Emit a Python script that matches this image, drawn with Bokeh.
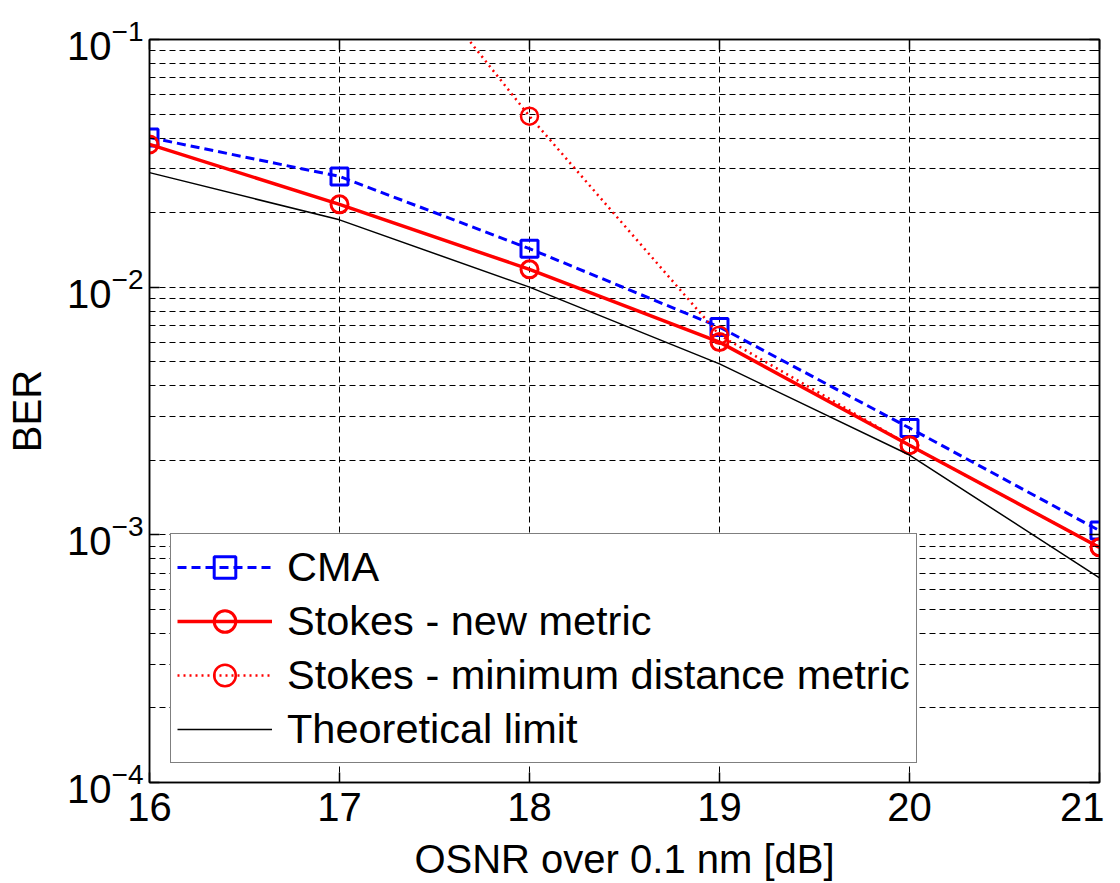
import math
from bokeh.plotting import figure
from bokeh.models import (FixedTicker, LinearAxis, LogAxis, Legend,
                          LegendItem, Range1d, CustomJSTickFormatter, LogTickFormatter)
from bokeh.embed import file_html
from bokeh.resources import INLINE

# ---- data ----
osnr = [16, 17, 18, 19, 20, 21]
ber_cma = [0.0402, 0.0280, 0.0143, 0.0069, 0.0027, 0.00104]
ber_stokes_new = [0.0377, 0.0216, 0.0118, 0.0060, 0.0023, 0.00089]
osnr_min_dist = [17, 18, 19, 20, 21]
ber_min_dist = [0.45, 0.049, 0.0064, 0.0023, 0.00089]
ber_theory = [0.0290, 0.0187, 0.0100, 0.0049, 0.0021, 0.00067]

x_ticks = [16, 17, 18, 19, 20, 21]
y_ticks = [1e-4, 1e-3, 1e-2, 1e-1]

series_labels = ["CMA", "Stokes - new metric",
                 "Stokes - minimum distance metric", "Theoretical limit"]
x_label = "OSNR over 0.1 nm [dB]"
y_label = "BER"

FONT = "Liberation Sans"
minor_y = [m * t for t in y_ticks[:-1] for m in range(2, 10)]
blank = CustomJSTickFormatter(code="return ''")

p = figure(frame_width=950, frame_height=743,
           min_border_left=149, min_border_right=5,
           min_border_top=39, min_border_bottom=85,
           x_range=Range1d(16, 21), y_range=Range1d(1e-4, 1e-1),
           y_axis_type="log", output_backend="svg", toolbar_location=None,
           x_axis_label=x_label, y_axis_label=y_label)

p.background_fill_color = "white"
p.border_fill_color = "white"
p.outline_line_color = "black"
p.outline_line_width = 1.5

# axes
xa = p.xaxis[0]
xa.ticker = FixedTicker(ticks=x_ticks)
xa.major_label_text_font = FONT
xa.major_label_text_font_size = "40px"
xa.major_label_text_color = "black"
xa.major_label_standoff = 10
xa.axis_label_text_font = FONT
xa.axis_label_text_font_size = "40px"
xa.axis_label_text_font_style = "normal"
xa.axis_label_text_color = "black"
xa.axis_label_standoff = 13
xa.major_tick_in = 10
xa.major_tick_out = 0
xa.minor_tick_line_color = None
xa.axis_line_width = 1.5
xa.major_tick_line_width = 1.5

ya = p.yaxis[0]
ya.ticker = FixedTicker(ticks=y_ticks, minor_ticks=minor_y)
ya.formatter = LogTickFormatter()
ya.major_label_text_font = FONT
ya.major_label_text_font_size = "40px"
ya.major_label_text_color = "black"
ya.major_label_standoff = 6
ya.axis_label_text_font = FONT
ya.axis_label_text_font_size = "40px"
ya.axis_label_text_font_style = "normal"
ya.axis_label_text_color = "black"
ya.axis_label_standoff = 15
ya.major_tick_in = 10
ya.major_tick_out = 0
ya.minor_tick_in = 5
ya.minor_tick_out = 0
ya.axis_line_width = 1.5
ya.major_tick_line_width = 1.5

top = LinearAxis(ticker=FixedTicker(ticks=x_ticks), formatter=blank,
                 major_label_standoff=0, major_tick_in=10, major_tick_out=0,
                 minor_tick_line_color=None, axis_line_width=1.5,
                 major_tick_line_width=1.5)
p.add_layout(top, "above")
right = LogAxis(ticker=FixedTicker(ticks=y_ticks, minor_ticks=minor_y),
                formatter=blank, major_label_standoff=0,
                major_tick_in=10, major_tick_out=0, minor_tick_in=5,
                minor_tick_out=0, axis_line_width=1.5, major_tick_line_width=1.5)
p.add_layout(right, "right")

# grid
p.xgrid.ticker = FixedTicker(ticks=x_ticks)
p.xgrid.grid_line_color = "black"
p.xgrid.grid_line_dash = "6 4"
p.xgrid.grid_line_width = 1
p.ygrid.ticker = FixedTicker(ticks=y_ticks, minor_ticks=minor_y)
p.ygrid.grid_line_color = "black"
p.ygrid.grid_line_dash = "6 4"
p.ygrid.grid_line_width = 1
p.ygrid.minor_grid_line_color = "black"
p.ygrid.minor_grid_line_dash = "6 4"
p.ygrid.minor_grid_line_width = 1

# series
r_cma_l = p.line(osnr, ber_cma, line_color="#0000ff", line_width=3, line_dash="9 5")
r_cma_m = p.scatter(osnr, ber_cma, marker="square", size=17, fill_color=None,
                    line_color="#0000ff", line_width=3)
r_new_l = p.line(osnr, ber_stokes_new, line_color="#ff0000", line_width=3.5)
r_new_m = p.scatter(osnr, ber_stokes_new, marker="circle", size=17, fill_color=None,
                    line_color="#ff0000", line_width=3)
r_md_l = p.line(osnr_min_dist, ber_min_dist, line_color="#ff0000", line_width=2.5,
                line_dash="2 4")
r_md_m = p.scatter(osnr_min_dist, ber_min_dist, marker="circle", size=17,
                   fill_color=None, line_color="#ff0000", line_width=2.5)
r_th = p.line(osnr, ber_theory, line_color="black", line_width=1.5)

legend = Legend(items=[
    LegendItem(label=series_labels[0], renderers=[r_cma_l, r_cma_m]),
    LegendItem(label=series_labels[1], renderers=[r_new_l, r_new_m]),
    LegendItem(label=series_labels[2], renderers=[r_md_l, r_md_m]),
    LegendItem(label=series_labels[3], renderers=[r_th]),
], location=(21, 19))
legend.label_text_font = FONT
legend.label_text_font_size = "41.5px"
legend.label_text_color = "black"
legend.glyph_width = 95
legend.glyph_height = 54
legend.label_height = 54
legend.label_standoff = 15
legend.spacing = 0
legend.padding = 6
legend.margin = 0
legend.border_line_color = "black"
legend.border_line_width = 1.5
legend.background_fill_alpha = 1
p.add_layout(legend, "center")

open("out.html", "w").write(file_html(p, INLINE))
